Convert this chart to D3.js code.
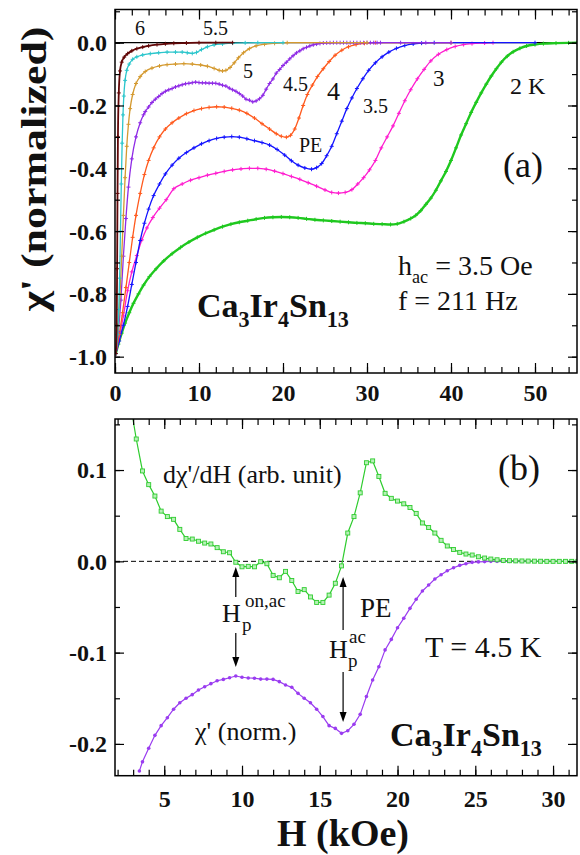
<!DOCTYPE html>
<html>
<head>
<meta charset="utf-8">
<script src="https://cdn.jsdelivr.net/npm/d3@7"></script>
<style>
  html, body { margin: 0; padding: 0; background: #fff; }
  svg { display: block; }
  text { font-family: "Liberation Serif", "Times New Roman", serif; fill: #111; }
</style>
</head>
<body>
<svg id="chart" width="580" height="855"></svg>
<script>
// ---------------- data: chi' (normalized) vs H (kOe), one array per temperature ----------------
const chi6K = [[0.1,-0.99],[0.2,-0.9],[0.25,-0.72],[0.3,-0.48],[0.35,-0.3],[0.45,-0.16],[0.6,-0.09],[0.8,-0.062],[1.1,-0.046],[1.5,-0.035],[2.0,-0.026],[2.6,-0.019],[3.3,-0.014],[4.0,-0.01],[5.0,-0.006],[6.0,-0.0035],[7.0,-0.002],[8.5,-0.001],[10,0],[12,0],[14,0]];
const chi55K = [[0.1,-0.99],[0.3,-0.93],[0.45,-0.85],[0.55,-0.75],[0.65,-0.6],[0.75,-0.45],[0.85,-0.32],[0.95,-0.23],[1.05,-0.17],[1.2,-0.12],[1.4,-0.088],[1.7,-0.068],[2.1,-0.053],[2.6,-0.045],[3.3,-0.039],[4.2,-0.035],[5.2,-0.032],[6.2,-0.03],[7.2,-0.03],[8.0,-0.03],[8.6,-0.032],[9.2,-0.034],[9.7,-0.031],[10.3,-0.022],[11.0,-0.013],[11.8,-0.007],[12.8,-0.004],[14,-0.0015],[15.5,-0.0005],[17,0],[20,0]];
const chi5K = [[0.1,-0.99],[0.4,-0.9],[0.6,-0.8],[0.8,-0.68],[1.0,-0.55],[1.2,-0.43],[1.4,-0.33],[1.6,-0.26],[1.8,-0.21],[2.1,-0.165],[2.5,-0.13],[3.0,-0.108],[3.6,-0.092],[4.4,-0.081],[5.3,-0.074],[6.2,-0.07],[7.2,-0.068],[8.2,-0.067],[9.2,-0.068],[10.2,-0.071],[11.0,-0.075],[11.8,-0.082],[12.4,-0.088],[12.8,-0.09],[13.2,-0.088],[13.7,-0.079],[14.2,-0.064],[14.7,-0.048],[15.3,-0.032],[16.0,-0.019],[16.8,-0.01],[17.8,-0.005],[19,-0.002],[20.5,0],[30,0]];
const chi45K = [[0.1,-0.99],[0.4,-0.92],[0.7,-0.82],[1.0,-0.68],[1.3,-0.56],[1.6,-0.46],[2.0,-0.37],[2.5,-0.3],[3.0,-0.255],[3.4,-0.2297],[3.6,-0.2195],[4.0,-0.2048],[4.4,-0.1906],[4.8,-0.18],[5.2,-0.1713],[5.6,-0.162],[6.0,-0.1549],[6.4,-0.15],[6.8,-0.146],[7.2,-0.141],[7.6,-0.1373],[8.0,-0.134],[8.4,-0.1308],[8.8,-0.1293],[9.2,-0.1275],[9.6,-0.1256],[10.0,-0.127],[10.4,-0.1278],[10.8,-0.128],[11.2,-0.129],[11.6,-0.129],[12.0,-0.1293],[12.4,-0.1318],[12.8,-0.1355],[13.2,-0.138],[13.6,-0.1446],[14.0,-0.15],[14.4,-0.1549],[14.8,-0.162],[15.2,-0.17],[15.6,-0.18],[16.0,-0.183],[16.4,-0.1884],[16.8,-0.1855],[17.2,-0.1785],[17.6,-0.1676],[18.0,-0.148],[18.4,-0.13],[18.8,-0.1155],[19.2,-0.097],[19.6,-0.0855],[20.0,-0.0727],[20.4,-0.0624],[20.8,-0.0515],[21.2,-0.0416],[21.6,-0.0325],[22.0,-0.026],[22.4,-0.0194],[22.8,-0.0147],[23.2,-0.0103],[23.6,-0.007],[24.0,-0.0044],[24.4,-0.0026],[24.8,-0.0011],[25.2,-0.0006],[25.6,-0.0003],[26.0,0],[26.4,0],[26.8,0],[27.2,0],[27.6,0],[28.0,0],[28.4,0],[28.8,0],[29.2,0],[29.6,0],[30.0,0],[30.4,0],[30.8,0],[31.2,0],[31.6,0],[34,0],[37,0],[40,0]];
const chi4K = [[0.1,-0.99],[0.5,-0.93],[0.9,-0.86],[1.3,-0.78],[1.7,-0.7],[2.1,-0.62],[2.5,-0.55],[3.0,-0.48],[3.5,-0.42],[4.0,-0.375],[4.6,-0.335],[5.3,-0.3],[6.0,-0.275],[6.8,-0.255],[7.6,-0.24],[8.5,-0.226],[9.4,-0.216],[10.3,-0.21],[11.2,-0.206],[12.1,-0.204],[13.0,-0.205],[13.9,-0.209],[14.8,-0.215],[15.7,-0.225],[16.6,-0.24],[17.5,-0.258],[18.4,-0.275],[19.2,-0.29],[19.8,-0.298],[20.4,-0.301],[20.9,-0.295],[21.4,-0.275],[21.9,-0.24],[22.4,-0.2],[22.9,-0.165],[23.5,-0.135],[24.1,-0.108],[24.8,-0.083],[25.5,-0.06],[26.2,-0.04],[27.0,-0.024],[27.8,-0.013],[28.7,-0.006],[29.7,-0.002],[31,0],[40,0]];
const chi35K = [[0.1,-0.99],[0.5,-0.95],[1.0,-0.9],[1.5,-0.84],[2.0,-0.77],[2.5,-0.7],[3.0,-0.63],[3.5,-0.575],[4.0,-0.53],[4.6,-0.487],[5.3,-0.45],[6.0,-0.418],[6.8,-0.39],[7.6,-0.368],[8.5,-0.35],[9.4,-0.335],[10.3,-0.322],[11.2,-0.312],[12.1,-0.305],[13.0,-0.301],[13.9,-0.299],[14.8,-0.301],[15.7,-0.306],[16.6,-0.312],[17.5,-0.318],[18.4,-0.326],[19.3,-0.34],[20.2,-0.358],[21.0,-0.376],[21.8,-0.39],[22.6,-0.399],[23.4,-0.403],[24.0,-0.398],[24.6,-0.385],[25.2,-0.36],[25.8,-0.33],[26.4,-0.29],[27.0,-0.25],[27.6,-0.21],[28.2,-0.176],[28.8,-0.146],[29.5,-0.115],[30.2,-0.088],[31.0,-0.064],[31.8,-0.045],[32.6,-0.03],[33.5,-0.018],[34.5,-0.009],[35.5,-0.004],[36.5,-0.0015],[38,0],[50,0]];
const chi3K = [[0.1,-0.99],[0.5,-0.94],[1.0,-0.87],[1.5,-0.79],[2.0,-0.73],[2.6,-0.678],[3.2,-0.628],[3.8,-0.59],[4.5,-0.557],[5.3,-0.527],[6.1,-0.5],[7.0,-0.465],[8.0,-0.45],[9.0,-0.438],[10.0,-0.43],[11.0,-0.422],[12.0,-0.416],[13.0,-0.41],[14.0,-0.405],[15.0,-0.402],[16.0,-0.4],[17.0,-0.4],[18.0,-0.403],[19.0,-0.409],[20.0,-0.417],[21.0,-0.426],[22.0,-0.435],[23.0,-0.446],[24.0,-0.457],[25.0,-0.469],[25.8,-0.477],[26.6,-0.479],[27.4,-0.477],[28.2,-0.468],[28.9,-0.45],[29.6,-0.43],[30.3,-0.405],[31.0,-0.375],[31.7,-0.335],[32.4,-0.3],[33.1,-0.265],[33.8,-0.225],[34.5,-0.185],[35.2,-0.15],[36.0,-0.115],[36.8,-0.085],[37.6,-0.058],[38.5,-0.037],[39.5,-0.022],[40.5,-0.012],[41.5,-0.006],[42.5,-0.003],[44,-0.001],[45,0]];
const chi2K = [[0.1,-0.99],[0.4,-0.96],[0.8,-0.925],[1.2,-0.893],[1.7,-0.86],[2.2,-0.83],[2.8,-0.8],[3.4,-0.772],[4.1,-0.745],[4.9,-0.72],[5.8,-0.695],[6.8,-0.672],[7.8,-0.652],[8.8,-0.635],[9.8,-0.62],[10.8,-0.607],[11.8,-0.596],[12.8,-0.586],[13.8,-0.578],[14.8,-0.572],[15.8,-0.567],[16.8,-0.562],[17.8,-0.558],[18.8,-0.556],[19.8,-0.555],[20.8,-0.556],[21.8,-0.558],[22.8,-0.561],[23.8,-0.564],[24.8,-0.566],[25.8,-0.568],[26.8,-0.57],[27.8,-0.572],[28.8,-0.574],[29.8,-0.575],[30.8,-0.577],[31.8,-0.578],[32.8,-0.579],[33.6,-0.577],[34.4,-0.57],[35.2,-0.56],[35.8,-0.55],[36.4,-0.535],[37.0,-0.515],[37.6,-0.495],[38.2,-0.47],[38.8,-0.44],[39.4,-0.41],[40.0,-0.375],[40.6,-0.335],[41.2,-0.294],[41.8,-0.258],[42.4,-0.222],[43.0,-0.19],[43.6,-0.16],[44.2,-0.132],[44.8,-0.106],[45.4,-0.083],[46.0,-0.062],[46.7,-0.043],[47.4,-0.029],[48.2,-0.018],[49.0,-0.0105],[50,-0.006],[51,-0.003],[52.5,-0.0015],[54,-0.0005],[55,0]];

// ---------------- data: dchi'/dH at T = 4.5 K (arb. unit) ----------------
const dchi45K = [[2.8,0.175],[3.2,0.134],[3.6,0.099],[4.0,0.084],[4.4,0.0715],[4.8,0.055],[5.2,0.049],[5.6,0.046],[6.0,0.035],[6.4,0.025],[6.8,0.0244],[7.2,0.022],[7.6,0.02],[8.0,0.019],[8.4,0.015],[8.8,0.0105],[9.2,0.0094],[9.6,-0.001],[10.0,-0.006],[10.4,-0.0055],[10.8,-0.006],[11.2,-0.0004],[11.6,-0.0026],[12.0,-0.0154],[12.4,-0.018],[12.8,-0.011],[13.2,-0.021],[13.6,-0.033],[14.0,-0.031],[14.4,-0.039],[14.8,-0.045],[15.2,-0.045],[15.6,-0.037],[16.0,-0.024],[16.4,-0.005],[16.8,0.031],[17.2,0.049],[17.6,0.075],[18.0,0.108],[18.4,0.11],[18.8,0.093],[19.2,0.0745],[19.6,0.069],[20.0,0.066],[20.4,0.063],[20.8,0.059],[21.2,0.0525],[21.6,0.042],[22.0,0.037],[22.4,0.031],[22.8,0.023],[23.2,0.0168],[23.6,0.013],[24.0,0.0098],[24.4,0.008],[24.8,0.0069],[25.2,0.005],[25.6,0.0036],[26.0,0.0025],[26.4,0.0017],[26.8,0.001],[27.2,0.0007],[27.6,0.0005],[28.0,0.0004],[28.4,0.0003],[28.8,0.0002],[29.2,0.0001],[29.6,0],[30.0,0],[30.4,0],[30.8,0],[31.2,0],[31.6,0]];

// curve labels and tick values
const tempLabels = ["2 K", "3", "3.5", "4", "4.5", "5", "5.5", "6"];
const topXTicks = [0, 10, 20, 30, 40, 50];
const topYTicks = [0.0, -0.2, -0.4, -0.6, -0.8, -1.0];
const botXTicks = [5, 10, 15, 20, 25, 30];
const botYTicks = [0.1, 0.0, -0.1, -0.2];
const fieldMarks = [9.6, 16.5];   // H_p^on,ac and H_p^ac (kOe)

// ---------------- layout ----------------
const svg = d3.select("#chart");
svg.append("rect").attr("width", 580).attr("height", 855).attr("fill", "#fff");

const topP = { left: 115, right: 577, top: 9.5, bottom: 373 };
const botP = { left: 115, right: 577, top: 419, bottom: 775.7 };

const xTop = d3.scaleLinear().domain([0, 55]).range([topP.left, topP.right]);
const yTop = d3.scaleLinear().domain([-1.052, 0.1057]).range([topP.bottom, topP.top]);
const xBot = d3.scaleLinear().domain([1.833, 31.54]).range([botP.left, botP.right]);
const yBot = d3.scaleLinear().domain([-0.2348, 0.1559]).range([botP.bottom, botP.top]);

const defs = svg.append("defs");
defs.append("clipPath").attr("id", "clipTop").append("rect")
  .attr("x", topP.left).attr("y", topP.top).attr("width", topP.right - topP.left).attr("height", topP.bottom - topP.top);
defs.append("clipPath").attr("id", "clipBot").append("rect")
  .attr("x", botP.left).attr("y", botP.top).attr("width", botP.right - botP.left).attr("height", botP.bottom - botP.top);

const fmt1 = v => (Math.abs(v) < 1e-9 ? 0 : v).toFixed(1);

function drawFrame(p, x, y, xMajor, xMinor, yMajor, yMinor, xLabelY) {
  const g = svg.append("g");
  const styleTicks = sel => {
    sel.select(".domain").remove();
    sel.selectAll(".tick line").attr("stroke", "#000").attr("stroke-width", 1.2);
  };
  // bottom
  g.append("g").attr("transform", `translate(0,${p.bottom})`)
    .call(d3.axisBottom(x).tickValues(xMinor).tickSize(-6).tickFormat("")).call(styleTicks);
  const bx = g.append("g").attr("transform", `translate(0,${p.bottom})`)
    .call(d3.axisBottom(x).tickValues(xMajor).tickSize(-10).tickFormat(d3.format("d"))).call(styleTicks);
  bx.selectAll(".tick text").attr("y", xLabelY - p.bottom).attr("dy", null)
    .attr("font-size", 24).attr("font-weight", "bold").attr("fill", "#111")
    .attr("font-family", '"Liberation Serif","Times New Roman",serif');
  // top
  g.append("g").attr("transform", `translate(0,${p.top})`)
    .call(d3.axisTop(x).tickValues(xMinor).tickSize(-6).tickFormat("")).call(styleTicks);
  g.append("g").attr("transform", `translate(0,${p.top})`)
    .call(d3.axisTop(x).tickValues(xMajor).tickSize(-10).tickFormat("")).call(styleTicks);
  // left
  g.append("g").attr("transform", `translate(${p.left},0)`)
    .call(d3.axisLeft(y).tickValues(yMinor).tickSize(-5).tickFormat("")).call(styleTicks);
  const ly = g.append("g").attr("transform", `translate(${p.left},0)`)
    .call(d3.axisLeft(y).tickValues(yMajor).tickSize(-9).tickPadding(8).tickFormat(fmt1)).call(styleTicks);
  ly.selectAll(".tick text").attr("font-size", 24).attr("font-weight", "bold").attr("fill", "#111")
    .attr("dy", "0.33em").attr("font-family", '"Liberation Serif","Times New Roman",serif');
  // right
  g.append("g").attr("transform", `translate(${p.right},0)`)
    .call(d3.axisRight(y).tickValues(yMinor).tickSize(-5).tickFormat("")).call(styleTicks);
  g.append("g").attr("transform", `translate(${p.right},0)`)
    .call(d3.axisRight(y).tickValues(yMajor).tickSize(-9).tickFormat("")).call(styleTicks);
  // frame
  g.append("rect").attr("x", p.left).attr("y", p.top)
    .attr("width", p.right - p.left).attr("height", p.bottom - p.top)
    .attr("fill", "none").attr("stroke", "#000").attr("stroke-width", 1.5);
}

function range(a, b, s) { const r = []; for (let v = a; v <= b + 1e-9; v += s) r.push(+v.toFixed(4)); return r; }

// ---------------- panel (a) ----------------
const gTop = svg.append("g").attr("clip-path", "url(#clipTop)");
gTop.append("line").attr("x1", xTop(0)).attr("x2", xTop(55)).attr("y1", yTop(0)).attr("y2", yTop(0))
  .attr("stroke", "#000").attr("stroke-width", 1.3);

const lineTop = d3.line().x(d => xTop(d[0])).y(d => yTop(d[1])).curve(d3.curveMonotoneX);
const topSeries = [
  { data: chi2K, color: "#1fc81f", w: 2.4 },
  { data: chi3K, color: "#ff1ccf", w: 1.3 },
  { data: chi35K, color: "#1414ff", w: 1.3 },
  { data: chi4K, color: "#ff5a1e", w: 1.3 },
  { data: chi45K, color: "#8f2be6", w: 1.3 },
  { data: chi5K, color: "#d49a30", w: 1.3 },
  { data: chi55K, color: "#2cc6cc", w: 1.3 },
  { data: chi6K, color: "#620808", w: 1.8 }
];
topSeries.forEach(s => {
  gTop.append("path").datum(s.data).attr("d", lineTop)
    .attr("fill", "none").attr("stroke", s.color).attr("stroke-width", s.w);
  gTop.append("g").selectAll("path").data(s.data).join("path")
    .attr("d", d => `M${xTop(d[0]) - 2},${yTop(d[1])}h4M${xTop(d[0])},${yTop(d[1]) - 2}v4`)
    .attr("stroke", s.color).attr("stroke-width", 1);
});

drawFrame(topP, xTop, yTop, topXTicks, range(0, 54, 2), topYTicks, range(-1.0, 0.1, 0.1), 401);

// curve labels
const lblPos = [
  { x: 510, y: 94, fs: 24 }, { x: 433, y: 86, fs: 23 }, { x: 363, y: 113, fs: 20 }, { x: 327, y: 100, fs: 26 },
  { x: 283, y: 91, fs: 20 }, { x: 243, y: 78, fs: 20 }, { x: 203, y: 35, fs: 20 }, { x: 135, y: 35, fs: 20 }
];
tempLabels.forEach((t, i) => {
  svg.append("text").attr("x", lblPos[i].x).attr("y", lblPos[i].y).attr("font-size", lblPos[i].fs).text(t);
});
svg.append("text").attr("x", 299).attr("y", 152).attr("font-size", 20).text("PE");
svg.append("text").attr("x", 503).attr("y", 177).attr("font-size", 36).text("(a)");

function rich(x, y, size, weight, parts) {
  const t = svg.append("text").attr("x", x).attr("y", y).attr("font-size", size).attr("font-weight", weight);
  let shift = 0;
  parts.forEach(([s, kind]) => {
    const target = kind === "sub" ? size * 0.28 : kind === "sup" ? -size * 0.42 : 0;
    const sp = t.append("tspan").text(s).attr("dy", target - shift);
    if (kind) sp.attr("font-size", size * 0.65);
    shift = target;
  });
  return t;
}
rich(398, 275, 28, "normal", [["h"], ["ac", "sub"], [" = 3.5 Oe"]]);
rich(398, 310, 28, "normal", [["f = 211 Hz"]]);
rich(197, 317, 34, "bold", [["Ca"], ["3", "sub"], ["Ir"], ["4", "sub"], ["Sn"], ["13", "sub"]]);

// ---------------- panel (b) ----------------
const gBot = svg.append("g").attr("clip-path", "url(#clipBot)");
gBot.append("line").attr("x1", botP.left).attr("x2", botP.right).attr("y1", yBot(0)).attr("y2", yBot(0))
  .attr("stroke", "#000").attr("stroke-width", 1).attr("stroke-dasharray", "5,3");

const lineBot = d3.line().x(d => xBot(d[0])).y(d => yBot(d[1]));
const chiB = chi45K.filter(d => d[0] >= 3.4 && d[0] <= 31.6);
gBot.append("path").datum(chiB).attr("d", lineBot)
  .attr("fill", "none").attr("stroke", "#9a3cf0").attr("stroke-width", 1.2);
gBot.append("g").selectAll("circle").data(chiB).join("circle")
  .attr("cx", d => xBot(d[0])).attr("cy", d => yBot(d[1])).attr("r", 1.8).attr("fill", "#9a3cf0");

gBot.append("path").datum(dchi45K).attr("d", lineBot)
  .attr("fill", "none").attr("stroke", "#2ecc2e").attr("stroke-width", 1.2);
gBot.append("g").selectAll("rect").data(dchi45K).join("rect")
  .attr("x", d => xBot(d[0]) - 2).attr("y", d => yBot(d[1]) - 2).attr("width", 4).attr("height", 4)
  .attr("fill", "#b8f0b8").attr("stroke", "#2ecc2e").attr("stroke-width", 0.9);

drawFrame(botP, xBot, yBot, botXTicks, range(2, 31, 1), botYTicks, range(-0.2, 0.15, 0.05), 807);

// arrows marking the peak-effect fields
function arrow(x, y1, y2) {
  const dir = y2 > y1 ? 1 : -1;
  svg.append("line").attr("x1", x).attr("x2", x).attr("y1", y1).attr("y2", y2 - dir * 8)
    .attr("stroke", "#000").attr("stroke-width", 1.2);
  svg.append("path").attr("d", `M${x},${y2}L${x - 3.5},${y2 - dir * 10}L${x + 3.5},${y2 - dir * 10}Z`).attr("fill", "#000");
}
const xa = xBot(fieldMarks[0]), xb = xBot(fieldMarks[1]);
arrow(xa, 597, 567);
arrow(xa, 633, 667);
arrow(xb, 630, 577);
arrow(xb, 672, 722);

svg.append("text").attr("x", 222).attr("y", 622).attr("font-size", 26).text("H");
svg.append("text").attr("x", 242).attr("y", 631).attr("font-size", 19).text("p");
svg.append("text").attr("x", 245).attr("y", 607).attr("font-size", 19).text("on,ac");
svg.append("text").attr("x", 329).attr("y", 658).attr("font-size", 26).text("H");
svg.append("text").attr("x", 348).attr("y", 667).attr("font-size", 19).text("p");
svg.append("text").attr("x", 349).attr("y", 643).attr("font-size", 19).text("ac");

svg.append("text").attr("x", 163).attr("y", 483).attr("font-size", 26).text("d\u03c7'/dH (arb. unit)");
svg.append("text").attr("x", 498).attr("y", 480).attr("font-size", 36).text("(b)");
svg.append("text").attr("x", 360).attr("y", 617).attr("font-size", 27).text("PE");
svg.append("text").attr("x", 425).attr("y", 657).attr("font-size", 30).text("T = 4.5 K");
svg.append("text").attr("x", 195).attr("y", 740).attr("font-size", 26).text("\u03c7' (norm.)");
rich(390, 746, 34, "bold", [["Ca"], ["3", "sub"], ["Ir"], ["4", "sub"], ["Sn"], ["13", "sub"]]);

// axis titles
svg.append("text").attr("transform", "translate(46,169) rotate(-90)")
  .attr("text-anchor", "middle").attr("font-size", 36).attr("font-weight", "bold")
  .attr("textLength", 285).attr("lengthAdjust", "spacingAndGlyphs")
  .text("\u03c7' (normalized)");
svg.append("text").attr("x", 343).attr("y", 846).attr("text-anchor", "middle")
  .attr("font-size", 38).attr("font-weight", "bold").text("H (kOe)");
</script>
</body>
</html>
